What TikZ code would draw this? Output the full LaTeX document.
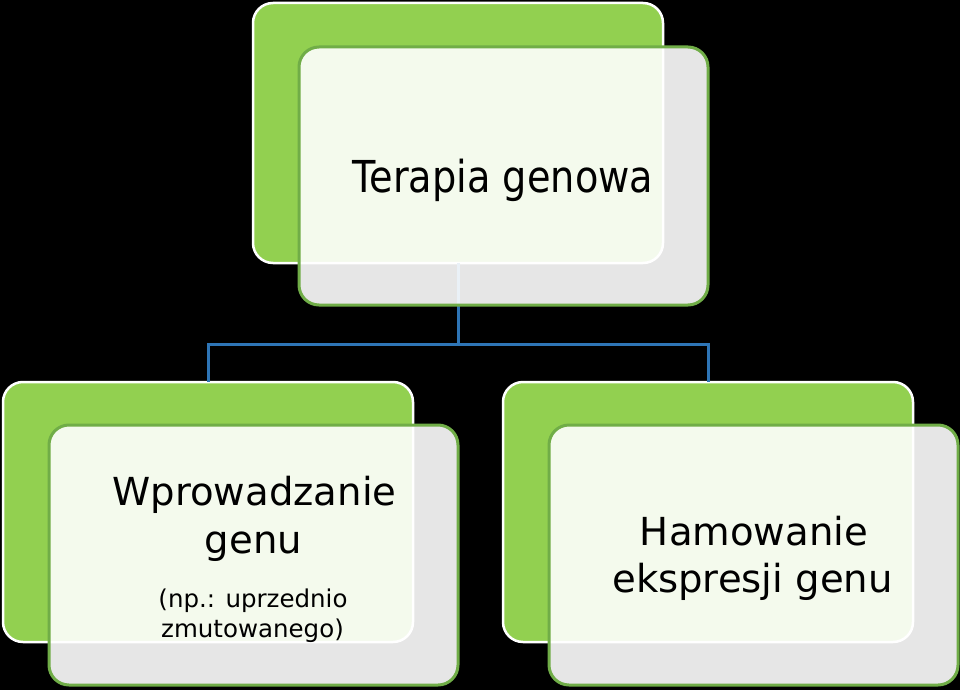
\documentclass[tikz,border=0pt]{standalone}
\usepackage{fontspec}
\setmainfont{DejaVu Sans}
\newfontfamily\narrowfont{DejaVu Sans}[FakeStretch=0.87]
\definecolor{backgreen}{HTML}{92D050}
\definecolor{edgegreen}{HTML}{70AD47}
\definecolor{linkblue}{HTML}{2E75B6}
\tikzset{
  backbox/.style={draw=white, line width=2.5pt, fill=backgreen, rounded corners=20pt},
  frontbox/.style={draw=edgegreen, line width=3pt, fill=white, fill opacity=0.9, draw opacity=1, rounded corners=20pt},
  link/.style={draw=linkblue, line width=3pt},
  bigtext/.style={anchor=base, inner sep=0pt, font=\fontsize{38.6}{48}\selectfont, text=black},
  smalltext/.style={anchor=base, inner sep=0pt, font=\fontsize{24.5}{30}\selectfont, text=black}
}
\begin{document}
\begin{tikzpicture}[x=1pt,y=-1pt]
\fill[black] (0,0) rectangle (960,690);
\useasboundingbox (0,0) rectangle (960,690);
% back boxes
\draw[backbox] (253,3) rectangle (663,263);
\coordinate (topb) at (458,263);
\draw[backbox] (3,382) rectangle (413,642);
\coordinate (leftb) at (208,382);
\draw[backbox] (503,382) rectangle (913,642);
\coordinate (rightb) at (708,382);
% connectors
\coordinate (junction) at (458,344);
\draw[link] (topb) -- (junction);
\draw[link] (junction) -| (leftb);
\draw[link] (junction) -| (rightb);
% front boxes
\draw[frontbox] (299,47) rectangle (708,305);
\draw[frontbox] (49,425) rectangle (458,685);
\draw[frontbox] (549,425) rectangle (958,685);
% texts
\node[bigtext, font=\narrowfont\fontsize{44}{48}\selectfont] (t1) at (503,192) {Terapia genowa};
\node[bigtext] (l1) at (254.5,505) {Wprowadzanie};
\node[bigtext] (l2) at (253.5,553) {genu};
\node[smalltext] (l3) at (253,607) {(np.: uprzednio};
\node[smalltext] (l4) at (252.5,637) {zmutowanego)};
\node[bigtext] (r1) at (754,545) {Hamowanie};
\node[bigtext] (r2) at (752.5,592) {ekspresji genu};
\end{tikzpicture}
\end{document}
